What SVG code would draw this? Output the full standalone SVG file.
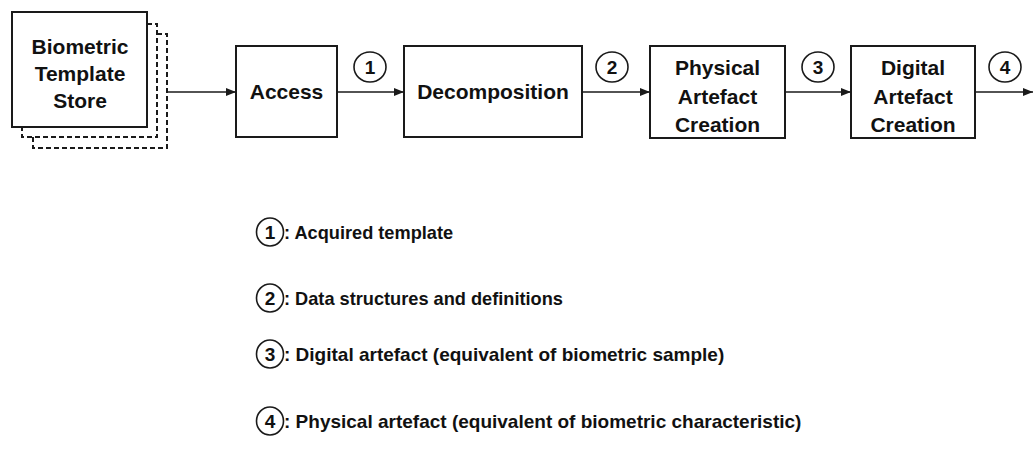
<svg xmlns="http://www.w3.org/2000/svg" width="1033" height="449" viewBox="0 0 1033 449">
  <style>
    .box { fill: #ffffff; stroke: #1a1a1a; stroke-width: 2; }
    .dash { fill: none; stroke: #1a1a1a; stroke-width: 2; stroke-dasharray: 5 3; }
    .lbl { font-family: "Liberation Sans", Arial, sans-serif; font-weight: bold; font-size: 21px; fill: #111111; text-anchor: middle; }
    .leg { font-family: "Liberation Sans", Arial, sans-serif; font-weight: bold; font-size: 18.2px; fill: #111111; }
    .leg.wide { font-size: 19px; }
    .num { font-family: "Liberation Sans", Arial, sans-serif; font-weight: bold; font-size: 19px; fill: #111111; text-anchor: middle; }
    .ring { fill: none; stroke: #1a1a1a; stroke-width: 1.6; }
    .edge { fill: none; stroke: #1a1a1a; stroke-width: 1.6; marker-end: url(#arrow); }
  </style>
  <defs>
    <marker id="arrow" viewBox="0 0 10 8" refX="10" refY="4" markerWidth="10" markerHeight="8" markerUnits="userSpaceOnUse" orient="auto">
      <path d="M0,0 L10,4 L0,8 Z" fill="#1a1a1a"/>
    </marker>
  </defs>
  <rect width="1033" height="449" fill="#ffffff"/>

  <!-- template store with stacked copies behind it -->
  <g id="store">
    <path class="dash" d="M147,24 H157 V137 H22 V127"/>
    <path class="dash" d="M157,34 H167 V148 H33 V137"/>
    <rect class="box" x="12" y="12" width="135" height="115"/>
    <text class="lbl" x="80" y="54">Biometric</text>
    <text class="lbl" x="80" y="81">Template</text>
    <text class="lbl" x="80" y="108">Store</text>
  </g>

  <g id="access">
    <rect class="box" x="236" y="46" width="101" height="91"/>
    <text class="lbl" x="286.5" y="99">Access</text>
  </g>

  <g id="decomposition">
    <rect class="box" x="404" y="46" width="178" height="91"/>
    <text class="lbl" x="493" y="99">Decomposition</text>
  </g>

  <g id="physical">
    <rect class="box" x="650" y="46" width="135" height="92"/>
    <text class="lbl" x="717.5" y="75">Physical</text>
    <text class="lbl" x="717.5" y="104">Artefact</text>
    <text class="lbl" x="717.5" y="132">Creation</text>
  </g>

  <g id="digital">
    <rect class="box" x="851" y="46" width="124" height="92"/>
    <text class="lbl" x="913" y="75">Digital</text>
    <text class="lbl" x="913" y="104">Artefact</text>
    <text class="lbl" x="913" y="132">Creation</text>
  </g>

  <!-- flow connectors -->
  <g id="connectors">
    <line class="edge" x1="167" y1="92" x2="236" y2="92"/>
    <line class="edge" x1="337" y1="92" x2="404" y2="92"/>
    <line class="edge" x1="582" y1="92" x2="650" y2="92"/>
    <line class="edge" x1="785" y1="92" x2="851" y2="92"/>
    <line class="edge" x1="975" y1="92" x2="1033" y2="92"/>
  </g>

  <!-- numbered markers on the flow -->
  <g id="markers">
    <ellipse class="ring" cx="370" cy="67" rx="16" ry="15"/>
    <text class="num" x="370" y="74">1</text>
    <ellipse class="ring" cx="612" cy="67" rx="16" ry="15"/>
    <text class="num" x="612" y="74">2</text>
    <ellipse class="ring" cx="818" cy="67" rx="16" ry="15"/>
    <text class="num" x="818" y="74">3</text>
    <ellipse class="ring" cx="1005" cy="67" rx="16" ry="15"/>
    <text class="num" x="1005" y="74">4</text>
  </g>

  <!-- legend -->
  <g id="legend">
    <ellipse class="ring" cx="270" cy="232" rx="13.5" ry="14"/>
    <text class="num" x="270" y="239">1</text>
    <text class="leg" x="284" y="239">: Acquired template</text>

    <ellipse class="ring" cx="270" cy="298" rx="13.5" ry="14"/>
    <text class="num" x="270" y="305">2</text>
    <text class="leg" x="284" y="305">: Data structures and definitions</text>

    <ellipse class="ring" cx="270" cy="354" rx="13.5" ry="14"/>
    <text class="num" x="270" y="361">3</text>
    <text class="leg wide" x="284" y="361">: Digital artefact (equivalent of biometric sample)</text>

    <ellipse class="ring" cx="270" cy="421" rx="13.5" ry="14"/>
    <text class="num" x="270" y="428">4</text>
    <text class="leg wide" x="284" y="428">: Physical artefact (equivalent of biometric characteristic)</text>
  </g>
</svg>
